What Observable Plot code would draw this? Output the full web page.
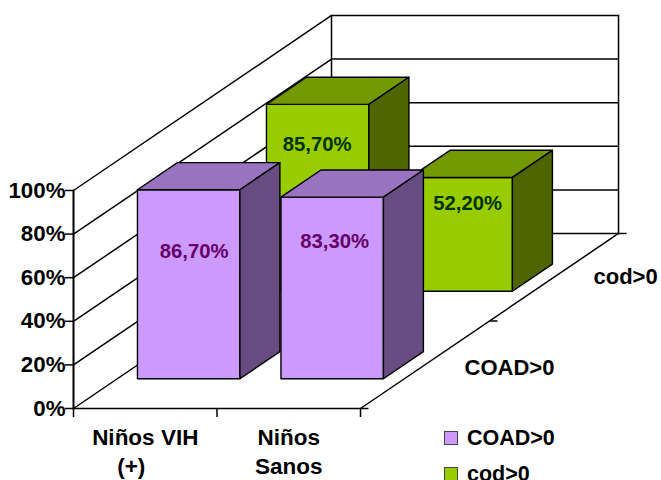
<!DOCTYPE html>
<html>
<head>
<meta charset="utf-8">
<script src="https://cdn.jsdelivr.net/npm/d3@7"></script>
<script src="https://cdn.jsdelivr.net/npm/@observablehq/plot@0.6"></script>
<style>
html,body{margin:0;padding:0;background:#fff;overflow:hidden}
#wrap{position:relative;width:661px;height:480px;font-family:"Liberation Sans",Arial,sans-serif;font-weight:bold;color:#000}
.leg{position:absolute;left:444px;display:flex;align-items:center;font-size:21.5px;line-height:20px;white-space:nowrap}
.leg i{display:inline-block;box-sizing:border-box;width:14px;height:14px;border:1px solid #444;margin-right:9px}
</style>
</head>
<body>
<div id="wrap"></div>
<script>
const categoryLine1 = ["Niños VIH", "Niños"];
const categoryLine2 = ["(+)", "Sanos"];
const seriesNames = ["COAD>0", "cod>0"];
const coadValues = [86.7, 83.3];
const codValues = [85.7, 52.2];
const yTicks = [0, 20, 40, 60, 80, 100];
const fmt = v => v.toFixed(2).replace(".", ",") + "%";

// oblique projection: one series of depth shifts a point along both chart axes
const shearX = 0.899, shearY = 40.14;
const P = (c, v, d) => ({x: c + d * shearX, y: v + d * shearY});
const nC = categoryLine1.length, nS = seriesNames.length;

const edge = (pts, sw = 1.5) => Plot.line(pts, {x: "x", y: "y", stroke: "#000", strokeWidth: sw});
const face = (pts, fill) => Plot.line(pts, {x: "x", y: "y", fill, stroke: "#000", strokeWidth: 1.4, curve: "linear-closed"});

const walls = [];
for (const v of yTicks) {
  walls.push(edge([P(0, v, 0), P(0, v, nS), P(nC, v, nS)], 1.5));
}
walls.push(edge([P(0, 0, 0), P(0, 100, 0)], 2));
walls.push(edge([P(0, 0, nS), P(0, 100, nS)], 1.5));
walls.push(edge([P(nC, 0, nS), P(nC, 100, nS)], 1.5));
walls.push(edge([P(0, 0, 0), P(nC, 0, 0)], 1.6));
walls.push(edge([P(nC, 0, 0), P(nC, 0, nS)], 1.5));

function bar(c, s, v, front, top, side) {
  const a = c + 0.14, b = c + 0.854, d0 = s + 0.34, d1 = s + 0.65;
  return [
    face([P(a, 0, d0), P(b, 0, d0), P(b, v, d0), P(a, v, d0)], front),
    face([P(a, v, d0), P(b, v, d0), P(b, v, d1), P(a, v, d1)], top),
    face([P(b, 0, d0), P(b, 0, d1), P(b, v, d1), P(b, v, d0)], side)
  ];
}
const purple = ["#CC99FF", "#9973BF", "#664C80"];
const green = ["#99CC00", "#739900", "#4D6600"];
const bars = [
  ...bar(0, 1, codValues[0], ...green),
  ...bar(1, 1, codValues[1], ...green),
  ...bar(0, 0, coadValues[0], ...purple),
  ...bar(1, 0, coadValues[1], ...purple)
];

const valueLabel = (c, s, v, color, dx, dy) => {
  const p = P(c + 0.5, v / 2, s + 0.34);
  return Plot.text([fmt(v)], {x: () => p.x, y: () => p.y, text: d => d, fill: color, fontSize: 20.3, fontWeight: "bold", dx, dy});
};

const depthTick = k => {
  const p = P(nC, 0, k);
  return Plot.link([p], {x1: "x", y1: "y", x2: d => d.x + 0.056, y2: "y", stroke: "#000", strokeWidth: 1.5});
};

const plot = Plot.plot({
  width: 661, height: 480,
  marginLeft: 73, marginRight: 301, marginTop: 190, marginBottom: 72,
  x: {domain: [0, nC], axis: null},
  y: {domain: [0, 100], axis: null},
  style: {fontFamily: "Liberation Sans, Arial, sans-serif", fontWeight: "bold", color: "#000", background: "transparent", overflow: "visible"},
  marks: [
    ...walls,
    Plot.axisY({ticks: yTicks, tickSize: 8, tickPadding: 0, tickFormat: d => d + "%", fontSize: 22.3, fontWeight: "bold", label: null, strokeWidth: 1.5}),
    Plot.axisX({ticks: d3.range(nC + 1), tickSize: 9, tickFormat: () => "", label: null, strokeWidth: 1.5}),
    ...bars,
    valueLabel(0, 0, coadValues[0], "#660066", 5, -33),
    valueLabel(1, 0, coadValues[1], "#660066", 2, -46),
    valueLabel(0, 1, codValues[0], "#003300", -1, -53),
    valueLabel(1, 1, codValues[1], "#003300", 6, -31),
    Plot.text(categoryLine1, {x: (d, i) => i + 0.5, y: () => 0, text: d => d, fontSize: 22.5, fontWeight: "bold", textAnchor: "middle", lineAnchor: "middle", dy: 29}),
    ...categoryLine2.map((t, i) => Plot.text([t], {x: () => i + 0.5, y: () => 0, text: d => d, fontSize: 22.5, fontWeight: "bold", textAnchor: "middle", lineAnchor: "middle", dy: 58, dx: i === 0 ? -14 : 0})),
    ...d3.range(nS + 1).map(depthTick),
    ...seriesNames.map((n, i) => {
      const p = P(nC, 0, i + 0.5);
      return Plot.text([n], {x: () => p.x, y: () => p.y, text: d => d, fontSize: 22, fontWeight: "bold", textAnchor: "start", dx: 39.5, dy: i === 0 ? 3 : 0});
    })
  ]
});
const wrap = document.getElementById("wrap");
wrap.appendChild(plot);
seriesNames.forEach((n, i) => {
  const row = document.createElement("div");
  row.className = "leg";
  row.style.top = (i === 0 ? 428 : 464) + "px";
  const sw = document.createElement("i");
  sw.style.background = [purple, green][i][0];
  row.appendChild(sw);
  row.appendChild(document.createTextNode(n));
  wrap.appendChild(row);
});
</script>
</body>
</html>
